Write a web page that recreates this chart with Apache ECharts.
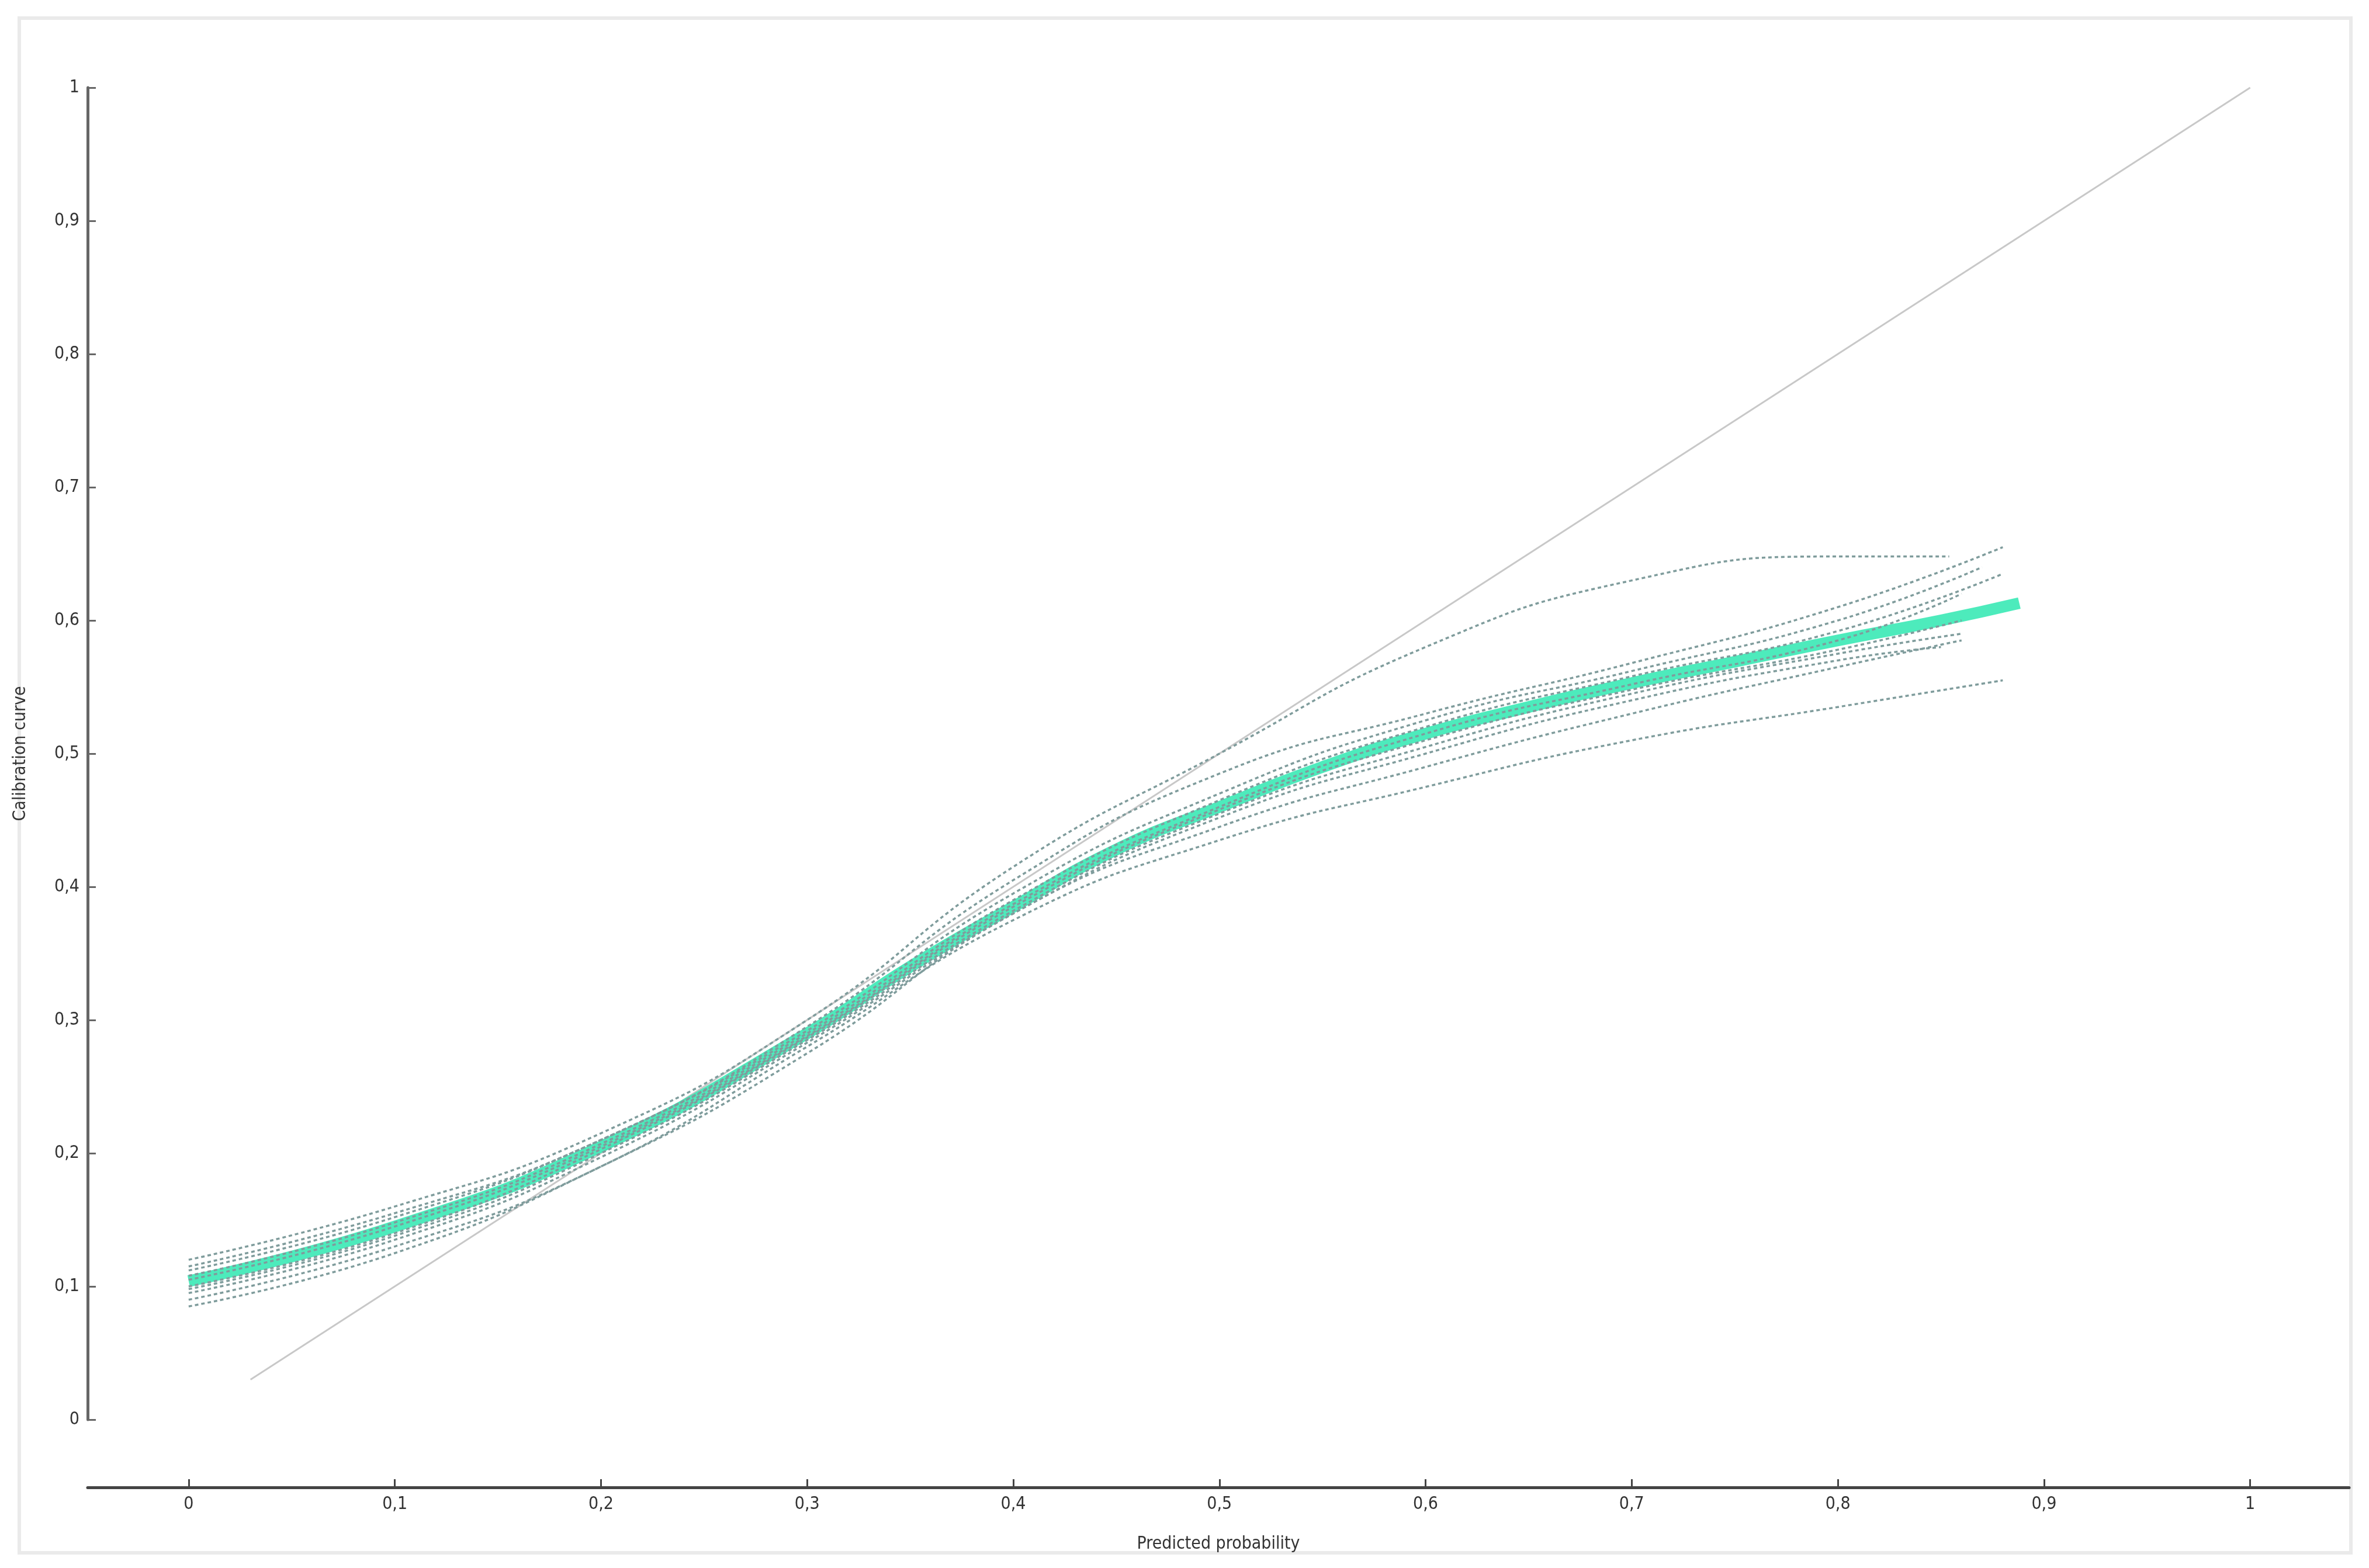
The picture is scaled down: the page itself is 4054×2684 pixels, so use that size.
<!DOCTYPE html>
<html><head><meta charset="utf-8">
<script src="https://cdn.jsdelivr.net/npm/echarts@6/dist/echarts.min.js"></script>
<style>html,body{margin:0;padding:0;background:#fff}#c{width:4054px;height:2684px}</style>
</head><body><div id="c"></div>
<script>
const xTicks = [0,0.1,0.2,0.3,0.4,0.5,0.6,0.7,0.8,0.9,1];
const yTicks = [0,0.1,0.2,0.3,0.4,0.5,0.6,0.7,0.8,0.9,1];
const mainX = [0,0.1,0.2,0.3,0.35,0.4,0.45,0.5,0.55,0.6,0.65,0.7,0.75,0.8,0.85,0.888];
const mainY = [0.104,0.145,0.205,0.29,0.34,0.385,0.428,0.46,0.49,0.515,0.535,0.553,0.569,0.585,0.60,0.613];
const bootX = [0,0.1,0.2,0.3,0.4,0.5,0.6,0.7,0.8];
const boot1 = [0.12,0.16,0.215,0.30,0.415,0.50,0.58,0.63,0.648];
const boot2 = [0.115,0.155,0.21,0.295,0.405,0.485,0.53,0.568,0.61];
const boot3 = [0.112,0.152,0.21,0.292,0.395,0.47,0.525,0.562,0.60];
const boot4 = [0.108,0.148,0.207,0.29,0.39,0.465,0.52,0.558,0.592];
const boot5 = [0.105,0.145,0.205,0.288,0.387,0.46,0.515,0.552,0.585];
const boot6 = [0.100,0.14,0.203,0.287,0.385,0.458,0.51,0.548,0.578];
const boot7 = [0.098,0.138,0.20,0.285,0.382,0.455,0.505,0.545,0.575];
const boot8 = [0.095,0.135,0.197,0.283,0.38,0.452,0.50,0.54,0.57];
const boot9 = [0.09,0.13,0.19,0.28,0.375,0.435,0.475,0.51,0.535];
const boot10 = [0.085,0.125,0.19,0.275,0.38,0.445,0.49,0.53,0.565];
const bootEndX = [0.854,0.88,0.87,0.88,0.86,0.86,0.86,0.85,0.88,0.86];
const bootEndY = [0.648,0.655,0.64,0.635,0.62,0.60,0.59,0.58,0.555,0.585];
const boots = [boot1,boot2,boot3,boot4,boot5,boot6,boot7,boot8,boot9,boot10];
const diagX = [0.03,1];
const diagY = [0.03,1];

const fmt = v => String(Math.round(v*10)/10).replace('.', ',');
const font = "'Liberation Sans Narrow','DejaVu Sans Condensed',sans-serif";
const series = [];
series.push({type:'line',data:diagX.map((x,i)=>[x,diagY[i]]),symbol:'none',lineStyle:{color:'#c8c8c8',width:3},z:1});
boots.forEach((b,k)=>{
  const d = bootX.map((x,i)=>[x,b[i]]); d.push([bootEndX[k],bootEndY[k]]);
  series.push({type:'line',data:d,smooth:true,symbol:'none',lineStyle:{color:'#7f9c9c',width:3.5,type:[6,5]},z:3});
});
series.push({type:'line',data:mainX.map((x,i)=>[x,mainY[i]]),smooth:true,symbol:'none',lineStyle:{color:'#2ee8b0',width:20,opacity:0.85},z:2});

const chart = echarts.init(document.getElementById('c'));
chart.setOption({
  animation:false,
  backgroundColor:'#fff',
  graphic:[{type:'rect',shape:{x:33,y:31,width:3990,height:2627},style:{fill:'none',stroke:'#eaeaea',lineWidth:6}}],
  grid:{left:150,right:34,top:150,bottom:254},
  xAxis:{type:'value',min:-0.049,max:1.048,offset:116,
    name:'Predicted probability',nameLocation:'middle',nameGap:82,
    nameTextStyle:{fontFamily:font,fontSize:30,color:'#333'},
    axisLine:{onZero:false,lineStyle:{color:'#444',width:5}},
    axisTick:{inside:true,length:14,customValues:xTicks,lineStyle:{color:'#444',width:3}},
    axisLabel:{customValues:xTicks,formatter:fmt,fontFamily:font,fontSize:30,color:'#333',margin:14},
    splitLine:{show:false}},
  yAxis:{type:'value',min:0,max:1,
    name:'Calibration curve',nameLocation:'middle',nameGap:100,nameRotate:90,
    nameTextStyle:{fontFamily:font,fontSize:30,color:'#333'},
    axisLine:{show:true,onZero:false,lineStyle:{color:'#666',width:5}},
    axisTick:{show:true,inside:true,length:14,customValues:yTicks,lineStyle:{color:'#666',width:3}},
    axisLabel:{customValues:yTicks,formatter:fmt,fontFamily:font,fontSize:30,color:'#333',margin:14},
    splitLine:{show:false}},
  series:series
});
</script></body></html>
